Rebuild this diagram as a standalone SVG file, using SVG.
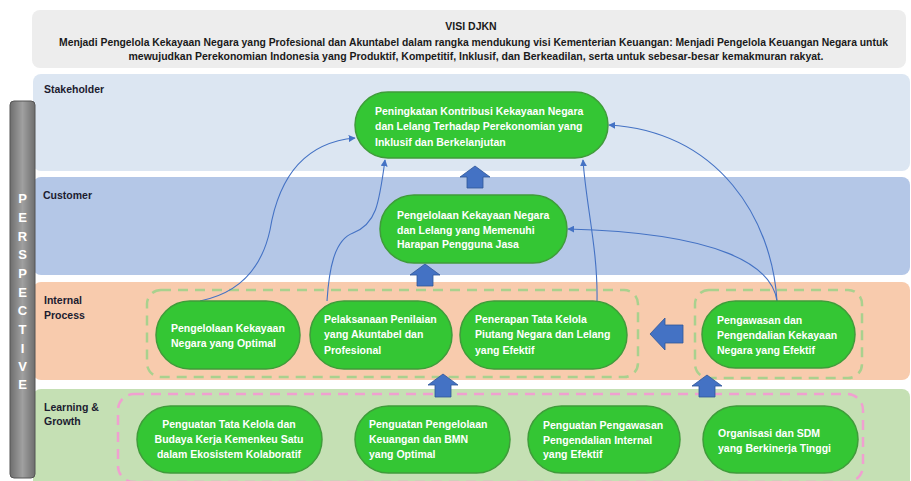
<svg xmlns="http://www.w3.org/2000/svg" width="911" height="481" viewBox="0 0 911 481">
<defs>
<style>
.t{font-family:"Liberation Sans",Arial,sans-serif;font-weight:bold}
.vis{font-size:10.5px;fill:#1a1a1a;text-anchor:middle}
.band{font-size:10.5px;fill:#1c1c30}
.node rect{fill:#34c634;stroke:#3f9c3a;stroke-width:1.5}
.nt{font-size:10.5px;fill:#ffffff}
.ctr{text-anchor:middle}
.conn{fill:none;stroke:#4472c4;stroke-width:1.1}
.blk{fill:#4472c4;stroke:#2f5597;stroke-width:0.8}
.gdash{fill:none;stroke:#a9d18e;stroke-width:2.5;stroke-dasharray:10 7}
.pdash{fill:none;stroke:#f0a0d0;stroke-width:2.5;stroke-dasharray:10 7}
.persp{font-size:13px;fill:#ffffff;text-anchor:middle}
</style>
<marker id="ah" viewBox="0 0 10 10" refX="9" refY="5" markerWidth="7" markerHeight="7" orient="auto" markerUnits="userSpaceOnUse">
<path d="M0,0 L10,5 L0,10 z" fill="#4472c4"/>
</marker>
<linearGradient id="pg" x1="0" y1="0" x2="1" y2="0">
<stop offset="0" stop-color="#6e6e6e"/>
<stop offset="0.5" stop-color="#a0a0a0"/>
<stop offset="1" stop-color="#6e6e6e"/>
</linearGradient>
</defs>
<rect width="911" height="481" fill="#ffffff"/>

<g id="vision">
<rect x="32" y="10" width="874" height="58" rx="8" fill="#ededed"/>
<text class="t vis" x="471" y="30">VISI DJKN</text>
<text class="t vis" x="473.5" y="46" textLength="829" lengthAdjust="spacingAndGlyphs">Menjadi Pengelola Kekayaan Negara yang Profesional dan Akuntabel dalam rangka mendukung visi Kementerian Keuangan: Menjadi Pengelola Keuangan Negara untuk</text>
<text class="t vis" x="476" y="60" textLength="695" lengthAdjust="spacingAndGlyphs">mewujudkan Perekonomian Indonesia yang Produktif, Kompetitif, Inklusif, dan Berkeadilan, serta untuk sebesar-besar kemakmuran rakyat.</text>
</g>

<g id="bands">
<rect x="33" y="74" width="877" height="97" rx="8" fill="#dce6f2"/>
<rect x="33" y="177" width="877" height="98" rx="8" fill="#b4c7e7"/>
<rect x="33" y="282" width="877" height="98" rx="8" fill="#f8cbad"/>
<rect x="33" y="389" width="877" height="100" rx="8" fill="#c5e0b4"/>
<text class="t band" x="44" y="93">Stakeholder</text>
<text class="t band" x="43" y="199">Customer</text>
<text class="t band" x="44" y="304">Internal</text>
<text class="t band" x="44" y="319">Process</text>
<text class="t band" x="44" y="411">Learning &amp;</text>
<text class="t band" x="44" y="425">Growth</text>
</g>

<g id="perspective">
<rect x="10" y="101" width="25" height="377" rx="4" fill="url(#pg)" stroke="#555555" stroke-width="1"/>
<text class="t persp" x="22.5" y="203">P</text>
<text class="t persp" x="22.5" y="222">E</text>
<text class="t persp" x="22.5" y="241">R</text>
<text class="t persp" x="22.5" y="259">S</text>
<text class="t persp" x="22.5" y="278">P</text>
<text class="t persp" x="22.5" y="297">E</text>
<text class="t persp" x="22.5" y="315">C</text>
<text class="t persp" x="22.5" y="334">T</text>
<text class="t persp" x="22.5" y="353">I</text>
<text class="t persp" x="22.5" y="371">V</text>
<text class="t persp" x="22.5" y="389">E</text>
</g>

<g id="groups">
<rect class="gdash" x="147" y="290" width="491" height="87" rx="14"/>
<rect class="gdash" x="695" y="290" width="167" height="88" rx="14"/>
<rect class="pdash" x="118" y="394" width="745" height="88" rx="16"/>
</g>

<g id="block-arrows">
<path class="blk" d="M475,166 L490,177 L483,177 L483,188 L467,188 L467,177 L460,177 Z"/>
<path class="blk" d="M425,264 L440,275 L433,275 L433,286 L417,286 L417,275 L410,275 Z"/>
<path class="blk" d="M443,374 L458,385 L451,385 L451,397 L435,397 L435,385 L428,385 Z"/>
<path class="blk" d="M707,375 L722,386 L715,386 L715,397 L699,397 L699,386 L692,386 Z"/>
<path class="blk" d="M650,334 L665,318 L665,325 L683,325 L683,343 L665,343 L665,350 Z"/>
</g>

<g id="connectors">
<path class="conn" marker-end="url(#ah)" d="M200,301 C245,292 263,262 270,230 C280,170 310,142 355,138"/>
<path class="conn" marker-end="url(#ah)" d="M327,301 C329,270 334,240 353,233 C376,224 379,205 385,160"/>
<path class="conn" marker-end="url(#ah)" d="M597,301 C598,250 586,205 583,160"/>
<path class="conn" marker-end="url(#ah)" d="M777,301 C772,220 720,132 609,125"/>
<path class="conn" marker-end="url(#ah)" d="M777,301 C772,266 722,233 568,229"/>
</g>

<g id="n-stakeholder" class="node">
<rect x="355" y="92" width="253" height="66" rx="33"/>
<text class="t nt" x="375" y="115">Peningkatan Kontribusi Kekayaan Negara</text>
<text class="t nt" x="375" y="130">dan Lelang Terhadap Perekonomian yang</text>
<text class="t nt" x="375" y="146">Inklusif dan Berkelanjutan</text>
</g>

<g id="n-customer" class="node">
<rect x="380" y="195" width="187" height="68" rx="34"/>
<text class="t nt" x="397" y="219">Pengelolaan Kekayaan Negara</text>
<text class="t nt" x="397" y="234">dan Lelang yang Memenuhi</text>
<text class="t nt" x="397" y="248">Harapan Pengguna Jasa</text>
</g>

<g id="n-ip1" class="node">
<rect x="156" y="301" width="144" height="68" rx="34"/>
<text class="t nt" x="171" y="332">Pengelolaan Kekayaan</text>
<text class="t nt" x="171" y="347">Negara yang Optimal</text>
</g>

<g id="n-ip2" class="node">
<rect x="310" y="301" width="142" height="68" rx="34"/>
<text class="t nt" x="324" y="323">Pelaksanaan Penilaian</text>
<text class="t nt" x="324" y="338">yang Akuntabel dan</text>
<text class="t nt" x="324" y="354">Profesional</text>
</g>

<g id="n-ip3" class="node">
<rect x="460" y="301" width="167" height="68" rx="34"/>
<text class="t nt" x="475" y="323">Penerapan Tata Kelola</text>
<text class="t nt" x="475" y="338">Piutang Negara dan Lelang</text>
<text class="t nt" x="475" y="354">yang Efektif</text>
</g>

<g id="n-ip4" class="node">
<rect x="702" y="301" width="153" height="67" rx="33.5"/>
<text class="t nt" x="717" y="324">Pengawasan dan</text>
<text class="t nt" x="717" y="339">Pengendalian Kekayaan</text>
<text class="t nt" x="717" y="354">Negara yang Efektif</text>
</g>

<g id="n-lg1" class="node">
<rect x="137" y="406" width="185" height="67" rx="33.5"/>
<text class="t nt ctr" x="229" y="428">Penguatan Tata Kelola dan</text>
<text class="t nt ctr" x="229" y="443">Budaya Kerja Kemenkeu Satu</text>
<text class="t nt ctr" x="229" y="458">dalam Ekosistem Kolaboratif</text>
</g>

<g id="n-lg2" class="node">
<rect x="355" y="406" width="155" height="67" rx="33.5"/>
<text class="t nt" x="369" y="428">Penguatan Pengelolaan</text>
<text class="t nt" x="369" y="443">Keuangan dan BMN</text>
<text class="t nt" x="369" y="458">yang Optimal</text>
</g>

<g id="n-lg3" class="node">
<rect x="528" y="406" width="152" height="67" rx="33.5"/>
<text class="t nt" x="543" y="429">Penguatan Pengawasan</text>
<text class="t nt" x="543" y="444">Pengendalian Internal</text>
<text class="t nt" x="543" y="458">yang Efektif</text>
</g>

<g id="n-lg4" class="node">
<rect x="703" y="406" width="155" height="67" rx="33.5"/>
<text class="t nt" x="718" y="437">Organisasi dan SDM</text>
<text class="t nt" x="718" y="452">yang Berkinerja Tinggi</text>
</g>
</svg>
